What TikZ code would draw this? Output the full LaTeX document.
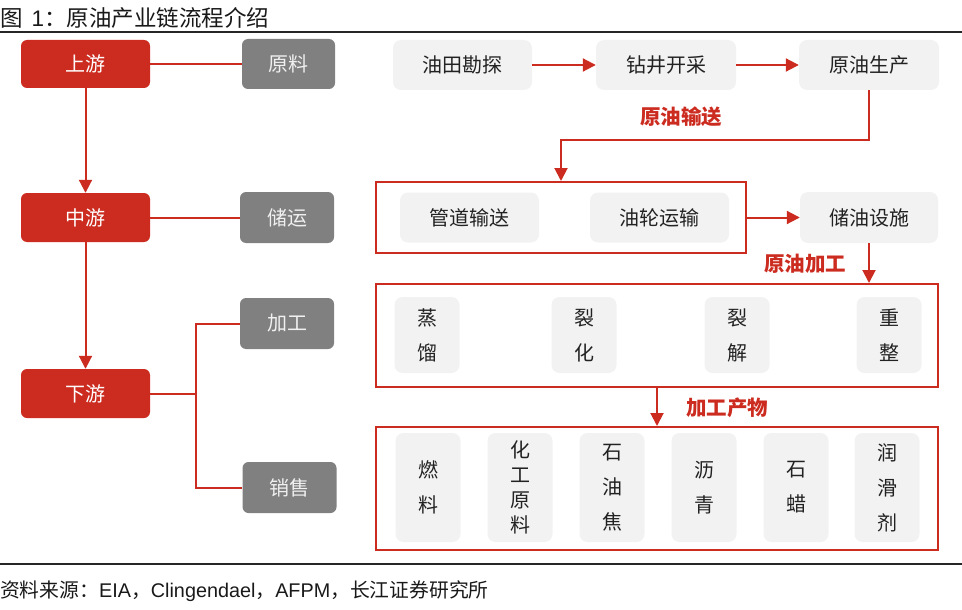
\documentclass[tikz,border=0pt]{standalone}
\usepackage{fontspec}
\setmainfont{Liberation Sans}
\newfontfamily\cjk{Noto Sans CJK SC}
\usetikzlibrary{arrows.meta}
\definecolor{cred}{RGB}{204,43,31}
\definecolor{cgray}{RGB}{128,128,128}
\definecolor{clight}{RGB}{242,242,242}
\definecolor{ctext}{RGB}{34,34,34}
\begin{document}
\begin{tikzpicture}[x=1pt,y=-1pt,
  tier/.style={rectangle, rounded corners=6pt, fill=cred, text=white, inner sep=0pt,
    font=\cjk\fontsize{20}{24}\selectfont},
  cat/.style={rectangle, rounded corners=6pt, fill=cgray, text=white!94!black, inner sep=0pt,
    font=\cjk\fontsize{20}{24}\selectfont},
  item/.style={rectangle, rounded corners=8pt, fill=clight, text=ctext, inner sep=0pt,
    font=\cjk\fontsize{20}{24}\selectfont},
  vitem/.style={item, align=center, minimum width=65pt, font=\cjk\fontsize{20}{35}\selectfont},
  frame/.style={rectangle, draw=cred, line width=2pt, inner sep=0pt},
  link/.style={draw=cred, line width=2pt},
  arr/.style={link, -{Triangle[length=13pt 0 0,width=13pt 0 0]}},
  lab/.style={text=cred, inner sep=0pt, font=\cjk\bfseries\fontsize{20.5}{24}\selectfont},
  rule/.style={draw=black!85, line width=1.3pt}
]
\useasboundingbox (0,0) rectangle (962,610);

% title and rules
\node[anchor=west, inner sep=0pt, text=black!90, font=\fontsize{22.5}{26}\selectfont] (title) at (0,18) {{\cjk 图}\hspace{9pt}1{\cjk ：原油产业链流程介绍}};
\coordinate (r1a) at (0,32); \coordinate (r1b) at (962,32);
\draw[rule] (r1a) -- (r1b);
\coordinate (r2a) at (0,564); \coordinate (r2b) at (962,564);
\draw[rule] (r2a) -- (r2b);
\node[anchor=west, inner sep=0pt, text=black!90, font=\fontsize{19.8}{24}\selectfont] (foot) at (0,591) {{\cjk 资料来源：}EIA{\cjk ，}Clingendael{\cjk ，}AFPM{\cjk ，长江证券研究所}};

% left column
\node[tier, minimum width=129pt, minimum height=48pt] (up) at (85.5,64) {上游};
\node[tier, minimum width=129pt, minimum height=49pt] (mid) at (85.5,217.5) {中游};
\node[tier, minimum width=129pt, minimum height=49pt] (down) at (85.5,393.5) {下游};
\node[cat, minimum width=93pt, minimum height=50pt] (yl) at (288.5,64) {原料};
\node[cat, minimum width=94pt, minimum height=51pt] (cy) at (287,217.5) {储运};
\node[cat, minimum width=94pt, minimum height=51pt] (jg) at (287,323.5) {加工};
\node[cat, minimum width=94pt, minimum height=51pt] (xs) at (289.5,487.5) {销售};

\draw[arr] (up) -- (mid);
\draw[arr] (mid) -- (down);
\draw[link] (up) -- (yl);
\draw[link] (mid) -- (cy);
\coordinate (br) at (196,393.5);
\draw[link] (down) -- (br);
\draw[link] (jg.west) -| (br);
\draw[link] (xs.west) -| (br);

% upstream row
\node[item, minimum width=139pt, minimum height=50pt] (kt) at (462.5,65) {油田勘探};
\node[item, minimum width=140pt, minimum height=50pt] (zj) at (666,65) {钻井开采};
\node[item, minimum width=140pt, minimum height=50pt] (sc) at (869,65) {原油生产};
\draw[arr] (kt) -- (zj);
\draw[arr] (zj) -- (sc);

% midstream
\node[frame, minimum width=370pt, minimum height=71pt] (b1) at (561,217.5) {};
\node[item, minimum width=139pt, minimum height=50pt] (gd) at (469.5,217.5) {管道输送};
\node[item, minimum width=139pt, minimum height=50pt] (yls) at (659.5,217.5) {油轮运输};
\node[item, minimum width=138pt, minimum height=51pt] (cyss) at (869,217.5) {储油设施};
\draw[arr] (sc.south) -- ++(0,50) -| (b1.north);
\node[lab] (l1) at (681,117) {原油输送};
\draw[arr] (b1) -- (cyss);

% processing
\node[frame, minimum width=562pt, minimum height=103pt] (b2) at (657,335.5) {};
\draw[arr] (cyss) -- (cyss |- b2.north);
\node[lab] (l2) at (805,264) {原油加工};
\node[vitem, minimum height=76pt] (p1) at (427,335) {蒸\\馏};
\node[vitem, minimum height=76pt] (p2) at (584,335) {裂\\化};
\node[vitem, minimum height=76pt] (p3) at (737,335) {裂\\解};
\node[vitem, minimum height=76pt] (p4) at (889,335) {重\\整};

% products
\node[frame, minimum width=562pt, minimum height=123pt] (b3) at (657,488.5) {};
\draw[arr] (b2) -- (b3);
\node[lab] (l3) at (727,408) {加工产物};
\node[vitem, minimum height=109pt] (q1) at (428,487.5) {燃\\料};
\node[vitem, minimum height=109pt, font=\cjk\fontsize{20}{25}\selectfont] (q2) at (520,487.5) {化\\工\\原\\料};
\node[vitem, minimum height=109pt] (q3) at (612,487.5) {石\\油\\焦};
\node[vitem, minimum height=109pt] (q4) at (704,487.5) {沥\\青};
\node[vitem, minimum height=109pt] (q5) at (796,487.5) {石\\蜡};
\node[vitem, minimum height=109pt] (q6) at (887,487.5) {润\\滑\\剂};
\end{tikzpicture}
\end{document}
